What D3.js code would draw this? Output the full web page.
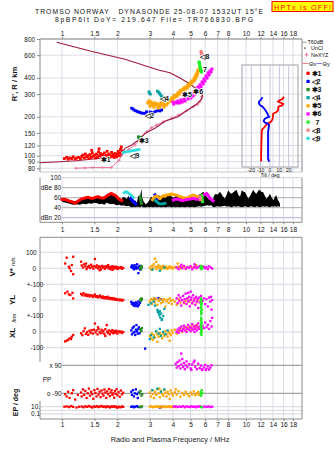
<!DOCTYPE html>
<html><head><meta charset="utf-8">
<script src="https://cdn.jsdelivr.net/npm/d3@7"></script>
<style>
body{margin:0;background:#fff;}
svg{display:block;}
text{font-family:"Liberation Sans",Arial,sans-serif;fill:#111;}
</style></head><body>
<svg id="c" width="335" height="451"></svg>
<script>
// ---------------- DATA ----------------
const freqTicks=[1,1.5,2,3,4,5,6,7,8,10,12,14,16,18];
const heightTicks=[80,90,100,120,150,200,300,400,600,800];
const tiltTicks=[-20,-10,0,10,20];
const dbLabels=[[100,"100"],[80,"dBe 80"],[60,"60"],[40,"40"],[20,"dBn 20"]];

// true-height profile (MHz, km) and NeXYZ profile
const profile=[[0.76,88.3],[0.92,89.4],[1.20,91.5],[1.61,95.5],[2.07,99.5],[2.13,104],[2.20,114],[2.39,121],[2.60,132],[2.83,149],[3.20,163],[3.63,185],[4.27,200],[4.66,219],[5.07,237],[5.40,251],[5.75,275],[5.80,295],[5.77,300],[5.62,314],[5.35,331],[4.96,359],[4.38,399],[3.86,439],[3.34,461],[2.20,557],[1.42,646],[0.936,755]];
const nexyz=[[1.19,80],[1.33,80.5],[1.47,81],[1.66,81],[1.85,81],[2.04,92],[2.10,100],[2.30,112],[2.49,121],[2.68,137],[2.88,153],[3.07,165],[3.27,173],[3.55,183],[3.95,195],[4.29,206],[4.76,223],[5.17,239],[5.45,250],[5.62,262],[5.75,286]];

// ionogram echo traces (MHz, km)
const redTrace=[[1.03,95],[1.06,97],[1.08,94],[1.10,96],[1.13,95],[1.15,98],[1.18,94],[1.20,96],[1.23,97],[1.26,95],[1.28,99],[1.30,101],[1.32,96],[1.34,103],[1.36,98],[1.38,100],[1.40,95],[1.42,102],[1.44,97],[1.46,105],[1.48,99],[1.50,101],[1.52,96],[1.54,103],[1.56,98],[1.58,107],[1.59,113],[1.60,100],[1.62,104],[1.64,97],[1.66,102],[1.68,99],[1.70,105],[1.72,98],[1.74,101],[1.76,108],[1.78,99],[1.80,103],[1.82,97],[1.84,100],[1.86,106],[1.88,99],[1.90,102],[1.92,97],[1.94,104],[1.96,100],[1.98,98],[2.00,103],[2.02,108],[2.04,100],[2.06,105],[2.08,112],[2.10,117],[2.12,109],[1.45,110],[1.70,96]];
const blueTrace=[[2.39,233],[2.43,230],[2.46,226],[2.51,223],[2.56,220],[2.60,218],[2.65,216],[2.70,214],[2.76,213],[2.83,213],[2.88,219],[3.01,218],[3.06,216],[3.12,214],[3.20,219],[3.27,222],[3.34,224],[3.41,222],[3.48,226]];
const dkgreenTrace=[[2.60,140],[2.62,137],[2.64,139],[2.66,136],[2.68,138],[2.70,135]];
const tealTrace=[[2.97,312],[2.99,305],[3.02,300],[3.30,316],[3.34,311],[3.38,305],[3.42,298],[3.46,290],[3.50,285],[3.54,280],[3.58,275],[3.63,270],[3.68,268],[4.07,290]];
const orangeTrace=[[2.93,256],[3.01,242],[3.08,251],[3.16,238],[3.24,247],[3.33,234],[3.41,242],[3.50,251],[3.58,238],[3.68,247],[3.77,256],[3.86,265],[2.97,265],[3.05,260],[3.12,247],[3.20,256],[3.29,251],[3.37,247],[3.45,256],[3.54,260],[3.63,251],[3.72,260],[3.82,270],[3.96,280],[4.06,290],[4.17,295],[4.27,305],[4.38,317],[4.49,323],[4.60,334],[4.72,340],[4.84,352],[4.96,365],[5.09,378],[5.22,392],[5.28,406],[5.35,421],[5.42,437],[5.48,452],[3.91,270],[4.01,275],[4.12,285],[4.22,290],[4.33,300],[4.43,311],[4.55,317],[4.66,328],[4.78,334],[4.90,346],[5.02,359],[5.15,372],[5.25,385],[5.32,399],[5.39,414],[5.45,429],[5.50,461]];
const magentaTrace=[[4.01,260],[4.17,260],[4.27,265],[4.43,270],[4.60,275],[4.78,285],[4.96,290],[5.09,300],[5.22,311],[5.35,323],[5.48,340],[5.62,353],[5.77,372],[5.91,392],[6.06,414],[6.21,437],[6.37,452],[6.53,468],[4.05,251],[4.22,256],[4.35,256],[4.50,260],[4.66,265],[4.84,275],[5.02,280],[5.15,290],[5.28,300],[5.42,311],[5.55,328],[5.70,340],[5.84,359],[5.98,378],[6.14,399],[6.30,421],[6.45,444]];
const greenTrace=[[5.55,531],[5.58,520],[5.60,510],[5.62,490],[5.64,480],[5.66,470],[5.68,460],[5.70,452],[5.74,444]];
const salmonTrace=[[5.70,640],[5.72,625],[5.75,610],[5.78,598]];
const cyanTrace=[[2.15,106],[2.19,106.5],[2.23,107],[2.27,107.5],[2.31,108],[2.35,108.5],[2.39,109],[2.43,109.5],[2.47,110],[2.51,110.5],[2.55,111],[2.59,111],[2.63,111.5]];
const traceLabels=[["✱1",1.73,92.6],["◁2",3.0,203],["✱3",2.78,130],["◁4",3.60,275],["✱5",4.78,295],["✱6",5.50,311],["7",5.98,461],["◁8",5.98,580],["◁9",2.49,101]];

// tilt inset (km, deg)
const tiltX=[[90,-9.5],[100,-9.5],[120,-9.3],[140,-9],[155,-8.8],[160,-8.2],[166,-6],[172,-4.5],[178,-2],[183,1],[190,2.5],[197,3],[205,3.2],[212,3.5],[218,7],[224,8.6],[232,8.8],[240,9],[246,13.5],[252,14],[258,11],[262,8.6],[268,10],[274,13.5],[280,14],[286,15]];
const tiltY=[[90,-1],[95,-2.1],[117,-2.1],[153,-2.1],[173,-1],[178,-3.2],[181,-5.7],[186,-6.8],[191,-6],[195,-4.6],[200,-1],[206,-2.1],[213,-3],[219,-3.9],[229,-5.7],[240,-8.1],[247,-11],[255,-12],[262,-11.8],[272,-9.5],[283,-8.1]];

// amplitude panel (MHz, dB)
const blackDB=[[1.00,52,57],[1.05,50,58],[1.10,48,55],[1.15,46,52],[1.20,47,54],[1.25,46,56],[1.30,48,59],[1.35,47,60],[1.40,49,61],[1.45,48,58],[1.50,50,60],[1.55,49,59],[1.60,47,62],[1.65,48,60],[1.70,46,63],[1.75,50,62],[1.80,48,64],[1.85,47,66],[1.90,48,65],[1.95,46,66],[2.00,45,62],[2.05,46,60],[2.10,44,56],[2.15,45,62],[2.20,44,60],[2.25,43,58],[2.30,44,64],[2.35,42,56],[2.40,41,52],[2.45,42,48],[2.50,41,55],[2.55,42,50],[2.60,42,64],[2.65,41,60],[2.70,43,78],[2.73,42,60],[2.78,41,52],[2.85,41,47],[2.92,42,50],[2.98,41,55],[3.05,42,62],[3.12,41,58],[3.20,42,64],[3.28,41,60],[3.36,42,66],[3.45,41,58],[3.55,42,62],[3.65,41,60],[3.75,42,64],[3.85,42,66],[3.95,41,62],[4.05,42,60],[4.15,41,63],[4.25,42,62],[4.35,41,60],[4.50,42,58],[4.65,41,62],[4.80,42,60],[4.95,41,66],[5.10,42,62],[5.25,41,58],[5.40,42,62],[5.55,43,66],[5.70,42,68],[5.85,43,72],[6.00,44,68],[6.15,45,60],[6.30,44,58],[6.45,45,56],[6.60,42,54],[6.70,41,64],[6.85,42,68],[7.00,43,66],[7.22,42,72],[7.45,43,64],[7.69,44,58],[7.85,42,66],[8.01,43,75],[8.18,42,70],[8.35,41,68],[8.60,43,72],[8.89,42,76],[9.08,43,66],[9.28,42,62],[9.48,41,75],[9.70,42,72],[9.89,43,71],[10.1,42,64],[10.3,41,58],[10.6,43,66],[10.95,42,76],[11.2,41,70],[11.4,43,68],[11.65,42,74],[11.9,41,76],[12.1,42,72],[12.4,43,71],[12.65,42,64],[12.9,43,58],[13.2,42,62],[13.5,41,68],[13.8,43,60],[14.1,42,55],[14.35,43,62],[14.6,42,65],[14.9,43,56],[15.3,42,48]];
const redDB=[[1.00,56.7],[1.03,57],[1.06,55.4],[1.10,53],[1.13,52],[1.16,50],[1.18,48.7],[1.21,52],[1.23,54],[1.27,57],[1.31,58.7],[1.35,60],[1.39,60.7],[1.43,59],[1.48,58.7],[1.52,61],[1.57,62],[1.62,60],[1.68,58.7],[1.73,62],[1.78,65.4],[1.82,67],[1.86,68.7],[1.90,66],[1.94,65.4],[1.98,62],[2.02,58.7],[2.06,56],[2.11,54]];
const cyanDB=[[2.18,70],[2.22,72],[2.27,71],[2.31,68],[2.36,66],[2.40,63],[2.44,60]];
const blueDB=[[2.36,58],[2.40,55],[2.44,53],[2.48,50],[2.52,47]];
const blueDB2=[[3.20,66],[3.25,62],[3.30,58]];
const dkgreenDB=[[2.66,62],[2.68,55],[2.70,49]];
const orangeDB=[[3.10,56],[3.14,58.7],[3.20,62],[3.27,63.4],[3.35,60],[3.41,58],[3.48,62],[3.55,64],[3.62,63],[3.70,65.4],[3.80,66],[3.94,67.4],[4.05,66],[4.20,65.4],[4.30,63],[4.38,62],[4.55,60],[4.76,58.7],[4.95,62],[5.17,65.4],[5.35,63],[5.51,62]];
const tealDB=[[3.22,54],[3.27,52],[3.34,49],[3.41,47.4],[3.52,48],[3.63,48.7]];
const magentaDB=[[4.03,55.4],[4.15,57],[4.29,56.7],[4.42,55],[4.56,54],[4.70,56],[4.86,56.7],[5.00,57.5],[5.17,58.7],[5.33,57],[5.51,56.7],[5.68,60],[5.86,65.4],[6.00,67],[6.11,68.7],[6.24,64],[6.37,58.7],[6.50,56],[6.63,54]];
const greenDB=[[5.76,64],[5.78,58],[5.80,52]];
const salmonDB=[[5.62,62],[5.66,56]];

// V* (m/s)
const redV=[[1.04,30],[1.06,66],[1.09,10],[1.10,0],[1.12,-17],[1.15,72],[1.15,-37],[1.13,20],[1.27,41],[1.28,18],[1.30,5],[1.32,25],[1.34,12],[1.36,-5],[1.38,8],[1.40,15],[1.42,2],[1.44,22],[1.46,10],[1.48,-2],[1.50,14],[1.51,58],[1.53,6],[1.55,18],[1.57,0],[1.59,12],[1.61,8],[1.63,-6],[1.65,15],[1.67,5],[1.69,10],[1.71,-3],[1.73,12],[1.75,6],[1.77,14],[1.79,0],[1.81,8],[1.83,-5],[1.85,10],[1.87,4],[1.89,12],[1.91,-2],[1.93,6],[1.95,10],[1.97,0],[1.99,8],[2.01,-4],[2.03,5],[2.06,2],[2.09,8],[2.12,-3],[2.15,3],[1.35,30],[1.60,-12],[1.78,20],[1.88,-10]];
const blueV=[[2.38,8],[2.40,18],[2.42,2],[2.44,12],[2.46,-6],[2.48,20],[2.50,5],[2.52,-2],[2.54,10],[2.56,25],[2.58,0],[2.60,-30],[2.62,8],[2.64,15],[2.66,-8],[2.70,5]];
const dkgreenV=[[2.66,5],[2.69,-5],[2.72,8],[2.70,15]];
const orangeV=[[3.00,5],[3.05,-8],[3.08,15],[3.12,0],[3.15,25],[3.20,60],[3.22,10],[3.26,-5],[3.30,8],[3.34,18],[3.38,2],[3.42,12],[3.46,-6],[3.50,6],[3.55,14],[3.60,0],[3.65,10],[3.70,4],[3.75,-4],[3.80,8],[3.85,12],[3.90,2],[3.95,6],[4.00,-2],[4.10,8],[4.20,4],[4.30,10],[4.40,0],[4.50,6],[4.60,12],[4.70,2],[4.80,8],[4.90,4],[5.00,10],[5.10,0],[5.20,6],[5.30,12],[5.40,4],[4.25,30],[3.25,40],[5.35,20]];
const tealV=[[3.10,-8],[3.40,-15],[3.60,5]];
const magentaV=[[4.20,5],[4.30,-5],[4.40,10],[4.50,0],[4.60,15],[4.70,-3],[4.80,8],[4.90,2],[5.00,12],[5.10,-6],[5.20,5],[5.30,10],[5.40,0],[5.50,8],[5.60,14],[5.70,-4],[5.80,6],[5.90,10],[6.00,0],[6.10,8],[6.20,-5],[6.30,12],[6.45,4],[6.55,-2],[4.45,22],[5.25,25]];
const greenV=[[5.65,5],[5.70,-5],[5.75,10],[5.80,0],[5.72,15]];

// YL (km)
const redYL=[[1.04,42],[1.07,52],[1.09,35],[1.11,31],[1.14,45],[1.15,10],[1.27,38],[1.29,30],[1.31,42],[1.33,28],[1.35,35],[1.37,25],[1.39,32],[1.41,22],[1.43,30],[1.45,28],[1.47,18],[1.49,26],[1.51,34],[1.53,20],[1.55,24],[1.57,16],[1.59,22],[1.61,28],[1.63,18],[1.65,14],[1.67,22],[1.69,12],[1.71,18],[1.73,10],[1.75,16],[1.77,20],[1.79,8],[1.81,14],[1.83,10],[1.85,6],[1.87,12],[1.89,4],[1.91,10],[1.93,8],[1.95,2],[1.97,6],[2.00,0],[2.03,4],[2.06,-2],[2.09,2],[2.12,-4],[2.15,0]];
const blueYL=[[2.38,-12],[2.40,-25],[2.42,-18],[2.44,-32],[2.46,-20],[2.48,-38],[2.50,-28],[2.52,-15],[2.54,-35],[2.56,-22],[2.58,-40],[2.60,-10],[2.62,-30],[2.65,-18],[3.20,8],[3.35,12],[3.45,5]];
const dkgreenYL=[[2.66,2],[2.69,-5],[2.72,6],[2.70,10]];
const orangeYL=[[3.00,-10],[3.05,5],[3.08,-25],[3.12,0],[3.16,10],[3.20,-15],[3.25,5],[3.30,-30],[3.35,-5],[3.40,8],[3.45,-20],[3.50,0],[3.55,-12],[3.60,5],[3.65,-40],[3.70,-8],[3.75,2],[3.80,-18],[3.85,10],[3.90,-5],[3.95,-25],[4.00,0],[4.10,-10],[4.20,-30],[4.30,5],[4.40,-15],[4.50,0],[4.60,-20],[4.70,-8],[4.80,10],[4.90,-12],[5.00,0],[5.10,-22],[5.20,-5],[5.30,8],[5.40,-15],[5.50,0]];
const tealYL=[[3.30,-62],[3.35,-80],[3.38,-95],[3.42,-110],[3.45,-85],[3.50,-120],[3.40,-70],[3.55,-100],[3.32,-75],[3.48,-125],[3.20,-35],[3.60,-55],[3.05,-20],[2.95,-30],[3.15,-10]];
const magentaYL=[[4.20,10],[4.25,-20],[4.30,30],[4.35,-5],[4.40,15],[4.45,-35],[4.50,0],[4.55,25],[4.60,-15],[4.65,5],[4.70,40],[4.75,-25],[4.80,10],[4.85,-8],[4.90,20],[4.95,-40],[5.00,0],[5.05,15],[5.10,-20],[5.15,30],[5.20,-5],[5.25,10],[5.30,-30],[5.35,20],[5.40,-10],[5.45,5],[5.50,-50],[5.55,15],[5.60,-15],[5.70,25],[5.80,-5],[5.90,10],[6.00,-25],[6.10,5],[6.20,-40],[6.30,15],[6.40,-10],[6.50,-60],[6.55,0],[5.00,52],[4.85,45],[6.45,20]];
const greenYL=[[5.70,10],[5.72,0],[5.68,-10],[5.74,-20],[5.70,-30],[5.72,-40],[5.68,-50],[5.75,-60],[5.70,-70],[5.73,-80],[5.71,-90]];

// XL (km)
const redXL=[[1.04,-60],[1.06,-55],[1.08,-50],[1.10,-40],[1.12,-45],[1.13,-30],[1.15,-19],[1.27,-8],[1.29,-20],[1.31,5],[1.33,23],[1.35,-12],[1.37,0],[1.39,-18],[1.41,8],[1.43,-5],[1.45,12],[1.47,-10],[1.49,15],[1.51,54],[1.52,-2],[1.54,10],[1.56,-15],[1.58,20],[1.60,0],[1.62,-8],[1.64,14],[1.66,-3],[1.68,8],[1.70,-12],[1.72,18],[1.75,44],[1.76,2],[1.78,-6],[1.80,10],[1.82,-15],[1.84,5],[1.86,-2],[1.88,12],[1.90,-8],[1.92,4],[1.94,-4],[1.96,8],[1.98,0],[2.00,-10],[2.03,6],[2.06,-2],[2.09,3],[2.12,-6],[2.15,0],[1.57,30],[1.72,-25]];
const blueXL=[[2.38,10],[2.40,-15],[2.42,25],[2.44,-5],[2.46,35],[2.48,0],[2.50,-19],[2.52,15],[2.54,44],[2.56,5],[2.58,-10],[2.60,20],[2.62,30],[2.64,-8],[2.83,-106]];
const dkgreenXL=[[2.66,18],[2.69,10],[2.72,25],[2.70,5]];
const orangeXL=[[3.00,-25],[3.04,-40],[3.08,-10],[3.12,-50],[3.16,-20],[3.20,-35],[3.25,0],[3.30,-15],[3.35,-30],[3.40,-5],[3.45,-20],[3.50,-40],[3.55,-10],[3.60,-25],[3.65,5],[3.70,-15],[3.75,-30],[3.80,0],[3.85,-10],[3.90,-20],[3.95,10],[4.00,-5],[4.10,15],[4.20,-10],[4.30,5],[4.40,20],[4.50,0],[4.60,25],[4.70,10],[4.80,30],[4.90,15],[5.00,35],[5.10,20],[5.20,40],[5.30,25],[5.40,45],[5.50,30],[3.30,-62],[3.85,-55]];
const tealXL=[[3.05,-20],[3.15,-35],[3.25,5],[3.35,-10],[3.45,-25],[3.55,0],[3.65,-15],[3.75,10],[3.40,20],[3.00,-45]];
const magentaXL=[[4.20,0],[4.25,15],[4.30,-5],[4.35,25],[4.40,10],[4.45,35],[4.50,5],[4.55,20],[4.60,40],[4.65,10],[4.70,30],[4.75,0],[4.80,20],[4.85,45],[4.90,15],[4.95,30],[5.00,5],[5.05,25],[5.10,50],[5.15,15],[5.20,35],[5.25,0],[5.30,20],[5.35,40],[5.40,10],[5.45,30],[5.50,55],[5.55,20],[5.60,35],[5.70,15],[5.80,40],[5.90,25],[6.00,60],[6.10,30],[6.20,45],[6.30,20],[6.40,70],[6.50,35],[6.55,90]];
const greenXL=[[5.70,90],[5.72,80],[5.68,70],[5.74,60],[5.70,50],[5.72,40],[5.68,30],[5.75,20],[5.70,10],[5.73,0],[5.71,-10],[5.72,-19]];

// PP (deg)
const redPP=[[1.04,-95],[1.06,-110],[1.08,-80],[1.10,-120],[1.13,-90],[1.15,-70],[1.18,-130],[1.22,-100],[1.27,-85],[1.28,-110],[1.30,-65],[1.32,-100],[1.34,-75],[1.36,-120],[1.38,-90],[1.40,-60],[1.42,-105],[1.44,-80],[1.46,-95],[1.48,-125],[1.50,-70],[1.52,-88],[1.54,-110],[1.56,-62],[1.58,-98],[1.60,-80],[1.62,-115],[1.64,-72],[1.66,-92],[1.68,-105],[1.70,-66],[1.72,-85],[1.74,-120],[1.76,-78],[1.78,-95],[1.80,-62],[1.82,-108],[1.84,-84],[1.86,-70],[1.88,-100],[1.90,-90],[1.92,-118],[1.94,-76],[1.96,-94],[1.98,-64],[2.00,-102],[2.03,-82],[2.06,-112],[2.09,-72],[2.12,-96],[2.15,-86]];
const bluePP=[[2.38,-80],[2.40,-100],[2.43,-70],[2.46,-110],[2.49,-90],[2.52,-65],[2.55,-95],[2.58,-120],[2.61,-85]];
const dkgreenPP=[[2.64,-90],[2.67,-75],[2.70,-105],[2.73,-95]];
const orangePP=[[3.00,-85],[3.04,-110],[3.08,-70],[3.12,-95],[3.16,-120],[3.20,-80],[3.25,-100],[3.30,-65],[3.35,-90],[3.40,-115],[3.45,-75],[3.50,-95],[3.55,-105],[3.60,-70],[3.65,-88],[3.70,-110],[3.75,-80],[3.80,-96],[3.85,-125],[3.90,-72],[3.95,-90],[4.00,-104],[4.10,-84],[4.20,-98],[4.30,-76],[4.40,-112],[4.50,-88],[4.60,-100],[4.70,-80],[4.80,-95],[4.90,-108],[5.00,-85],[5.10,-98],[5.20,-78],[5.30,-102],[5.40,-90],[5.50,-82],[5.55,-100],[3.38,-60],[4.15,-64]];
const tealPP=[[3.10,-70],[3.30,-60],[3.45,-80],[3.60,-65]];
const magentaPP=[[4.15,100],[4.20,75],[4.25,110],[4.30,85],[4.35,120],[4.40,70],[4.45,95],[4.50,130],[4.55,80],[4.60,105],[4.65,65],[4.70,90],[4.75,115],[4.80,78],[4.45,165],[4.90,98],[5.00,70],[5.05,60],[5.10,95],[5.20,110],[5.25,120],[5.30,80],[5.40,65],[5.50,100],[5.60,72],[5.70,88],[5.75,64],[5.80,60],[5.90,76],[6.00,92],[6.05,60],[6.10,68],[6.20,84],[6.30,62],[6.40,75],[6.50,90]];
const greenPP=[[5.68,-80],[5.72,-95],[5.75,-70],[5.70,-105],[5.78,-88]];

// EP (deg)
const redEP=[[1.03,10],[1.06,12],[1.09,8],[1.12,14],[1.15,9],[1.20,6],[1.24,10],[1.28,11],[1.31,7],[1.34,13],[1.37,9],[1.40,15],[1.43,10],[1.46,6],[1.49,12],[1.52,9],[1.55,14],[1.58,8],[1.61,11],[1.64,16],[1.67,9],[1.70,12],[1.73,7],[1.76,13],[1.79,10],[1.82,6],[1.85,12],[1.88,9],[1.91,14],[1.94,8],[1.97,11],[2.00,5],[2.04,10],[2.08,7],[2.12,12],[2.15,9]];
const blueEP=[[2.38,9],[2.42,12],[2.46,7],[2.50,10],[2.55,14],[2.60,8],[3.40,6],[3.50,9]];
const dkgreenEP=[[2.64,10],[2.68,7],[2.72,12]];
const orangeEP=[[3.00,10],[3.06,13],[3.12,7],[3.18,11],[3.24,9],[3.30,15],[3.36,8],[3.42,12],[3.48,6],[3.54,10],[3.60,13],[3.66,8],[3.72,11],[3.78,9],[3.84,14],[3.90,7],[3.96,10],[4.02,12],[4.10,8]];
const magentaEP=[[4.05,10],[4.15,13],[4.25,8],[4.35,11],[4.45,9],[4.55,14],[4.65,7],[4.75,12],[4.85,10],[4.95,8],[5.05,13],[5.15,9],[5.25,11],[5.35,7],[5.45,12],[5.55,10],[5.65,14],[5.80,8],[5.95,11],[6.10,9],[6.25,12],[6.40,8],[6.55,10]];
const greenEP=[[5.70,9],[5.74,7]];

const legendItems=[["✱1","#ff0000"],["◁2","#0000ff"],["✱3","#228b22"],["◁4","#00a0a0"],["✱5","#ffa500"],["✱6","#ff00ff"],["7","#22ee22"],["◁8","#f08080"],["◁9","#33dddd"]];
const C={red:"#ff0000",blue:"#0000ff",dkgreen:"#228b22",teal:"#00a0a0",orange:"#ffa500",magenta:"#ff00ff",green:"#22ee22",salmon:"#f08080",cyan:"#33dddd"};

// ---------------- SCALES ----------------
const svg=d3.select("#c");
const X0=40,X1=302;
const x=d3.scaleLog().domain([0.7594,20.15]).range([X0,X1]);
const yH=d3.scaleLog().domain([74.8,800]).range([172,39]);
const yDB=d3.scaleLinear().domain([10.8,100]).range([222.3,177.7]);
const yV=d3.scaleLinear().domain([-100,100]).range([284.3,252.3]);
const yYL=d3.scaleLinear().domain([-100,0]).range([316,300]);
const yXL=d3.scaleLinear().domain([-100,100]).range([347.7,316.3]);
const yPP=d3.scaleLinear().domain([-90,90]).range([393.3,365.3]);
const yEP=d3.scaleLog().domain([0.1,10]).range([414,406.7]);
const xT=d3.scaleLinear().domain([-30,30]).range([242,298]);

const GRID="#dcdce8", AX="#8a8a8a";
function hline(y,x0,x1,col,w){svg.append("line").attr("x1",x0).attr("x2",x1).attr("y1",y).attr("y2",y).attr("stroke",col).attr("stroke-width",w||1);}
function vline(xx,y0,y1,col,w){svg.append("line").attr("x1",xx).attr("x2",xx).attr("y1",y0).attr("y2",y1).attr("stroke",col).attr("stroke-width",w||1);}

// ---------------- TITLE ----------------
svg.append("text").attr("x",35).attr("y",14.2).style("white-space","pre").attr("font-family","DejaVu Sans Mono, monospace").attr("font-size",6.8).attr("textLength",228).attr("lengthAdjust","spacing").text("TROMSO NORWAY   DYNASONDE 25-08-07 1532UT 15°E");
svg.append("text").attr("x",55).attr("y",22.2).style("white-space","pre").attr("font-family","DejaVu Sans Mono, monospace").attr("font-size",6.8).attr("textLength",198).attr("lengthAdjust","spacing").text("8pBP6It DoY= 219.647 File= TR766830.BPG");
svg.append("rect").attr("x",272).attr("y",1.5).attr("width",61).attr("height",10).attr("fill","#ffff00").attr("stroke","#ff0000").attr("stroke-width",1);
svg.append("text").attr("x",302.5).attr("y",9.6).attr("text-anchor","middle").attr("font-family","DejaVu Sans Mono, monospace").attr("font-size",7.2).attr("textLength",57).attr("lengthAdjust","spacing").style("fill","#ff0000").text("HPTx is OFF!");

// ---------------- GRIDS ----------------
freqTicks.forEach(f=>{vline(x(f),39,172,GRID);vline(x(f),177.7,222.3,GRID);vline(x(f),237.3,419,GRID);});
heightTicks.forEach(h=>hline(yH(h),X0,X1,GRID));
hline(yDB(100),62,X1,"#cfcfd8");
[80,60,40].forEach(v=>hline(yDB(v),62,X1,"#a8a8b0"));
hline(yDB(20),62,X1,"#b0b0e8");
[100,0,-100].forEach(v=>hline(yV(v),X0,X1,"#d6d6de"));
[0].forEach(v=>hline(yYL(v),X0,X1,"#d6d6de"));
[0,-100].forEach(v=>hline(yXL(v),X0,X1,"#d6d6de"));
hline(yPP(90),62,X1,"#8c8c8c");
hline(yPP(-90),62,X1,"#8c8c8c");
[10,1,0.1].forEach(v=>hline(yEP(v),X0,X1,"#d6d6de"));

// ---------------- BORDERS ----------------
hline(39,X0,X1,AX); vline(X0,39,172,AX); vline(X1,39,172,AX); hline(172,X0,X1,"#c8c8c8");
vline(X0,177.7,222.3,AX); vline(X1,177.7,222.3,AX); hline(222.3,X0,X1,AX);
hline(237.3,X0,X1,AX); vline(X0,237.3,362,AX); vline(X0,401,419,AX); vline(X1,237.3,419,AX); hline(419,X0,X1,AX);

// ---------------- AXES ----------------
function styleAx(g,fs){g.select(".domain").remove();g.selectAll("line").attr("stroke",AX);g.selectAll("text").attr("font-size",fs).attr("font-family","Liberation Sans, Arial, sans-serif").style("fill","#111");}
styleAx(svg.append("g").attr("transform","translate(0,39)").call(d3.axisTop(x).tickValues(freqTicks).tickFormat(d3.format("")).tickSize(2).tickPadding(1.5)),6.6);
styleAx(svg.append("g").attr("transform","translate(0,222.3)").call(d3.axisBottom(x).tickValues(freqTicks).tickFormat(d3.format("")).tickSize(2).tickPadding(3)),6.6);
styleAx(svg.append("g").attr("transform","translate(0,419)").call(d3.axisBottom(x).tickValues(freqTicks).tickFormat(d3.format("")).tickSize(2).tickPadding(1)),6.6);
styleAx(svg.append("g").attr("transform","translate(40,0)").call(d3.axisLeft(yH).tickValues(heightTicks).tickFormat(d3.format("")).tickSize(3).tickPadding(2)),6.4);

svg.append("g").selectAll("text").data(dbLabels).enter().append("text").attr("x",61).attr("y",d=>yDB(d[0])).attr("dy","0.35em").attr("text-anchor","end").attr("font-size",6.4).text(d=>d[1]);

const lowLabels=[[36.7,yV(100),"100","end"],[36,yV(0),"0","end"],[43.3,yV(-100),"+-100","end"],[36,yYL(0),"0","end"],[43.3,yYL(-100),"+-100","end"],[36,yXL(0),"0","end"],[43.3,yXL(-100),"-100","end"],[61.5,yPP(90),"x 90","end"],[42.7,380,"PP","start"],[61.5,yPP(-90),"o -90","end"],[40,yEP(10),"10.","end"],[40,yEP(0.1),"0.1","end"]];
svg.append("g").selectAll("text").data(lowLabels).enter().append("text").attr("x",d=>d[0]).attr("y",d=>d[1]).attr("dy","0.35em").attr("text-anchor",d=>d[3]).attr("font-size",6.4).text(d=>d[2]);

function vtext(xx,yy,t,fs,bold){return svg.append("text").attr("transform",`translate(${xx},${yy}) rotate(-90)`).attr("text-anchor","middle").attr("font-size",fs).attr("font-weight",bold?"bold":"normal").text(t);}
vtext(16.5,84,"R', R / km",7.6,true);
const vs=svg.append("text").attr("transform","translate(14.5,267) rotate(-90)").attr("text-anchor","middle").attr("font-weight","bold").attr("font-size",8);
vs.append("tspan").text("V* ");vs.append("tspan").attr("font-size",5.2).attr("font-weight","normal").text("m/s");
vtext(14.5,300,"YL",8,true);
vtext(16,318,"/km",5.5,false);
vtext(14.5,333,"XL",8,true);
vtext(17.5,402.5,"EP / deg",7,true);
svg.append("text").attr("x",170).attr("y",441.5).attr("text-anchor","middle").attr("font-size",7.4).style("fill","#222").text("Radio and Plasma Frequency / MHz");

// ---------------- IONOGRAM ----------------
const lineH=d3.line().x(d=>x(d[0])).y(d=>yH(d[1]));
svg.append("path").attr("d",lineH(nexyz)).attr("fill","none").attr("stroke","#e8789c").attr("stroke-width",1);
svg.append("g").selectAll("path").data(nexyz).enter().append("path").attr("d",d=>`M${x(d[0])-1.6},${yH(d[1])}h3.2M${x(d[0])},${yH(d[1])-1.6}v3.2`).attr("stroke","#e8789c").attr("stroke-width",0.9);
svg.append("path").attr("d",lineH(profile)).attr("fill","none").attr("stroke","#a0183c").attr("stroke-width",1.1);

function sq(data,xs,ys,color,s){svg.append("g").selectAll("rect").data(data).enter().append("rect").attr("x",d=>xs(d[0])-s/2).attr("y",d=>ys(d[1])-s/2).attr("width",s).attr("height",s).attr("fill",color);}
sq(redTrace,x,yH,C.red,2.8);
sq(cyanTrace,x,yH,C.cyan,2.6);
sq(blueTrace,x,yH,C.blue,2.8);
sq(dkgreenTrace,x,yH,C.dkgreen,2.8);
sq(tealTrace,x,yH,C.teal,2.8);
sq(orangeTrace,x,yH,C.orange,3.2);
sq(magentaTrace,x,yH,C.magenta,3.0);
sq(greenTrace,x,yH,C.green,3.0);
sq(salmonTrace,x,yH,C.salmon,3.0);

svg.append("g").selectAll("text").data(traceLabels).enter().append("text").attr("x",d=>x(d[1])).attr("y",d=>yH(d[2])).attr("dy","0.35em").attr("text-anchor","middle").attr("font-size",7).attr("font-weight","bold").attr("stroke","#fff").attr("stroke-width",1.6).attr("paint-order","stroke").attr("font-family","DejaVu Sans, sans-serif").text(d=>d[0]);

// tilt inset
svg.append("rect").attr("x",242).attr("y",65).attr("width",56).attr("height",102).attr("fill","none").attr("stroke","#a0a0a8");
tiltTicks.forEach(t=>vline(xT(t),65,167,"#c4c4dc"));
const lineT=d3.line().x(d=>xT(d[1])).y(d=>yH(d[0]));
svg.append("path").attr("d",lineT(tiltX)).attr("fill","none").attr("stroke","#ff0000").attr("stroke-width",1.8);
svg.append("path").attr("d",lineT(tiltY)).attr("fill","none").attr("stroke","#0000ff").attr("stroke-width",1.8);
svg.append("g").selectAll("text").data(tiltTicks).enter().append("text").attr("x",d=>xT(d)).attr("y",171.5).attr("text-anchor","middle").attr("font-size",5).text(d=>d);
svg.append("text").attr("x",270).attr("y",177).attr("text-anchor","middle").attr("font-size",5).text("Tilt / deg");

// legend (right)
hline(42.3,302.5,306.7,"#999");
svg.append("text").attr("x",307.5).attr("y",44).attr("font-size",5.4).text("T60dB");
svg.append("rect").attr("x",304.3).attr("y",47.5).attr("width",1.2).attr("height",1.2).attr("fill","#000");
svg.append("text").attr("x",311).attr("y",50.3).attr("font-size",5.4).text("UnCl");
svg.append("path").attr("d","M304.5,54.8h4M306.5,52.8v4").attr("stroke","#e8789c").attr("stroke-width",1);
svg.append("text").attr("x",311).attr("y",57).attr("font-size",5.4).text("NeXYZ");
hline(63.5,302.5,308.5,"#f08080");
svg.append("text").attr("x",309).attr("y",66).attr("font-size",5.8).text("Θx");
hline(63.5,316.5,322,"#8080f0");
svg.append("text").attr("x",322.5).attr("y",66).attr("font-size",5.8).text("Θy");
const lg=svg.append("g").selectAll("g").data(legendItems).enter().append("g").attr("transform",(d,i)=>`translate(306.5,${73.3+i*8.13})`);
lg.append("rect").attr("x",0).attr("y",-1.6).attr("width",3.2).attr("height",3.2).attr("fill",d=>d[1]);
lg.append("text").attr("x",d=>d[0]==="7"?9:5).attr("y",0).attr("dy","0.35em").attr("font-size",7).attr("font-weight","bold").attr("font-family","DejaVu Sans, sans-serif").text(d=>d[0]);

// ---------------- AMPLITUDE PANEL ----------------
svg.append("path").attr("d",d3.area().x(d=>x(d[0])).y0(d=>yDB(d[1])).y1(d=>yDB(d[2]))(blackDB)).attr("fill","#000");
const lineDB=d3.line().x(d=>x(d[0])).y(d=>yDB(d[1]));
[[redDB,C.red],[cyanDB,C.cyan],[blueDB,C.blue],[blueDB2,C.blue],[dkgreenDB,C.dkgreen],[orangeDB,C.orange],[tealDB,C.teal],[magentaDB,C.magenta],[greenDB,C.green],[salmonDB,C.salmon]].forEach(([d,c])=>{
  svg.append("path").attr("d",lineDB(d)).attr("fill","none").attr("stroke",c).attr("stroke-width",3).attr("stroke-linejoin","round").attr("stroke-linecap","square");
});

// ---------------- LOWER PANEL ----------------
const S=2.3;
[[redV,C.red],[blueV,C.blue],[dkgreenV,C.dkgreen],[orangeV,C.orange],[tealV,C.teal],[magentaV,C.magenta],[greenV,C.green]].forEach(([d,c])=>sq(d,x,yV,c,S));
[[redYL,C.red],[blueYL,C.blue],[dkgreenYL,C.dkgreen],[orangeYL,C.orange],[tealYL,C.teal],[magentaYL,C.magenta],[greenYL,C.green]].forEach(([d,c])=>sq(d,x,yYL,c,S));
[[redXL,C.red],[blueXL,C.blue],[dkgreenXL,C.dkgreen],[orangeXL,C.orange],[tealXL,C.teal],[magentaXL,C.magenta],[greenXL,C.green]].forEach(([d,c])=>sq(d,x,yXL,c,S));
[[redPP,C.red],[bluePP,C.blue],[dkgreenPP,C.dkgreen],[orangePP,C.orange],[tealPP,C.teal],[magentaPP,C.magenta],[greenPP,C.green]].forEach(([d,c])=>sq(d,x,yPP,c,S));
[[redEP,C.red],[blueEP,C.blue],[dkgreenEP,C.dkgreen],[orangeEP,C.orange],[magentaEP,C.magenta],[greenEP,C.green]].forEach(([d,c])=>sq(d,x,yEP,c,S));
</script></body></html>
